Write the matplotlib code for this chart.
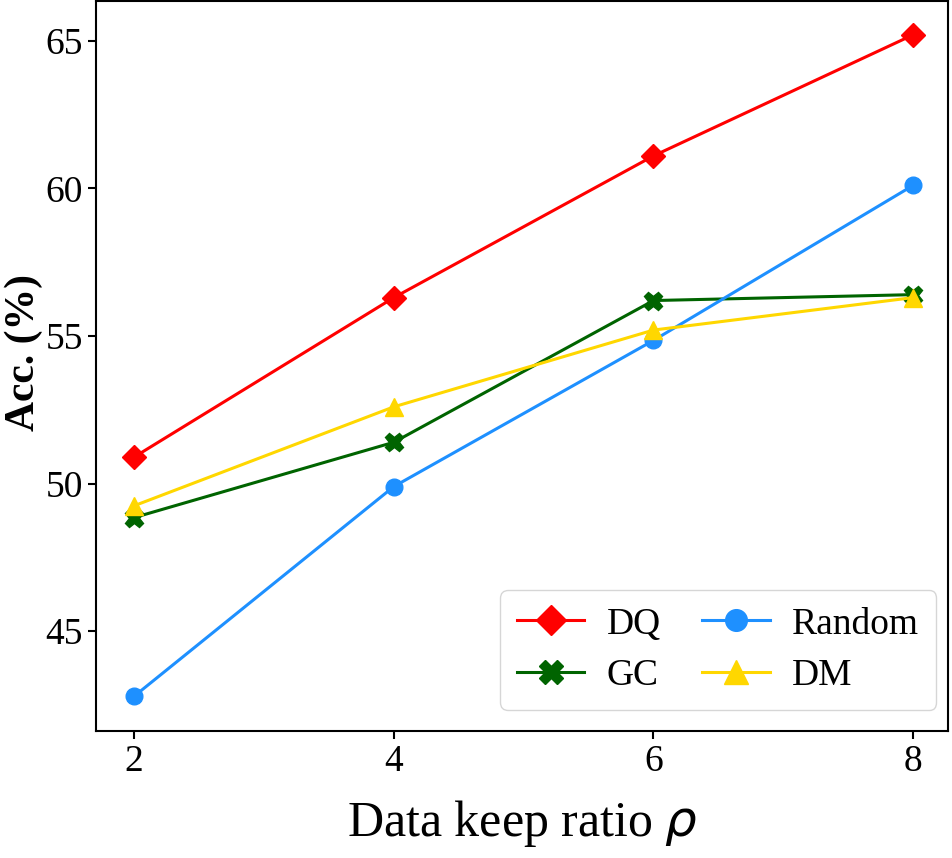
import matplotlib
matplotlib.use("Agg")
import matplotlib.pyplot as plt

plt.rcParams['font.family'] = ['Liberation Serif', 'DejaVu Serif']
plt.rcParams['mathtext.fontset'] = 'dejavusans'

x = [2, 4, 6, 8]
dq = [50.9, 56.3, 61.1, 65.2]
gc = [48.85, 51.4, 56.2, 56.4]
random_ = [42.8, 49.9, 54.85, 60.1]
dm = [49.25, 52.6, 55.2, 56.3]

fig = plt.figure(figsize=(9.52, 8.58), dpi=100)
ax = fig.add_axes([0.101, 0.148, 0.895, 0.851])

lw = 2.2
ax.plot(x, dq, color='red', marker='D', ms=12, lw=lw, label='DQ')
ax.plot(x, gc, color='darkgreen', marker='X', ms=13, lw=lw, label='GC')
ax.plot(x, random_, color='dodgerblue', marker='o', ms=12, lw=lw, label='Random')
ax.plot(x, dm, color='gold', marker='^', ms=13, lw=lw, label='DM')

ax.set_xlim(1.707, 8.27)
ax.set_ylim(41.62, 66.35)
ax.set_xticks([2, 4, 6, 8])
ax.set_yticks([45, 50, 55, 60, 65])
ax.tick_params(labelsize=27, width=1.5, length=6)
for s in ax.spines.values():
    s.set_linewidth(1.5)

ax.set_xlabel(r'Data keep ratio $\rho$', fontsize=36, labelpad=14)
ax.set_ylabel('Acc. (%)', fontsize=30, fontweight='bold')
ax.yaxis.set_label_coords(-0.062, 0.518)

ax.legend(loc='lower right', ncol=2, fontsize=27, handlelength=1.8,
          handletextpad=0.6, columnspacing=1.1, borderpad=0.45,
          labelspacing=0.45, markerscale=1.3, borderaxespad=0,
          bbox_to_anchor=(0.986, 0.029))

fig.savefig('out.png', dpi=100)
